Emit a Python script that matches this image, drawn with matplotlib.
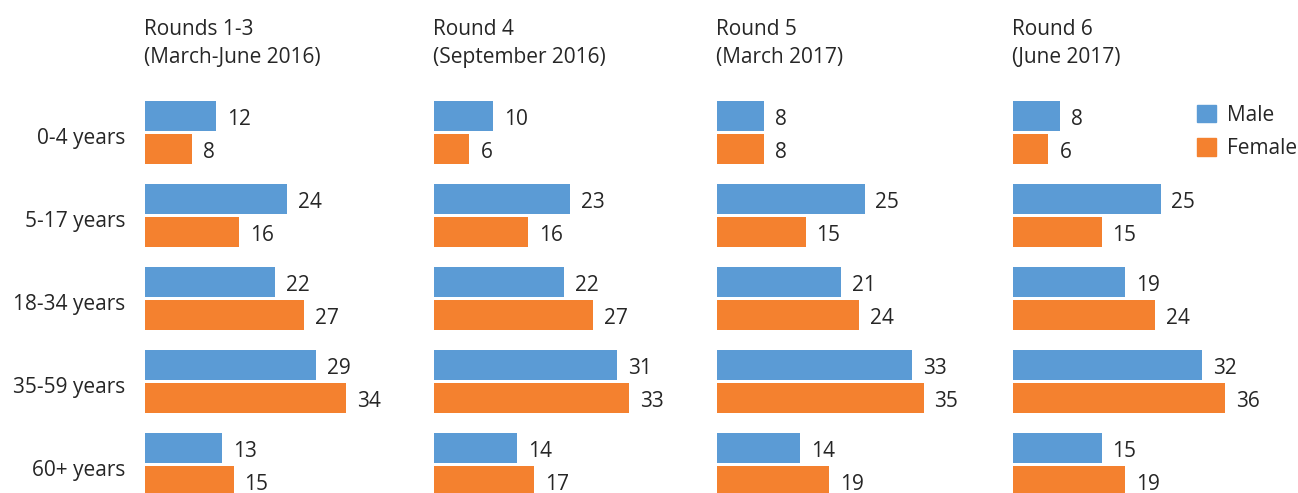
import numpy as np
import matplotlib.pyplot as plt
from matplotlib.patches import Patch

plt.rcParams['font.family'] = ['Open Sans', 'DejaVu Sans']

# data
age_groups = ['0-4 years', '5-17 years', '18-34 years', '35-59 years', '60+ years']
rounds = ['Rounds 1-3\n(March-June 2016)', 'Round 4\n(September 2016)',
          'Round 5\n(March 2017)', 'Round 6\n(June 2017)']
male = [[12, 24, 22, 29, 13],
        [10, 23, 22, 31, 14],
        [8, 25, 21, 33, 14],
        [8, 25, 19, 32, 15]]
female = [[8, 16, 27, 34, 15],
          [6, 16, 27, 33, 17],
          [8, 15, 24, 35, 19],
          [6, 15, 24, 36, 19]]

blue = '#5B9BD5'
orange = '#F4812F'
txt = '#262626'
fs = 15

W, H = 1298, 493
fig = plt.figure(figsize=(W / 100, H / 100), dpi=100)

def fx(px):
    return px / W

def fy(py):
    return 1 - py / H

px_per_unit = 5.9
row_px = 83.0
lefts = [145, 434, 717, 1013]
ax_w = 260
top_px, bot_px = 90, 493
y0 = 132.5  # centre of first row in px

y = np.arange(len(age_groups))
off = 16.5 / row_px
bh = 30 / row_px
txt_dy = 3.5 / row_px  # text sits a touch lower than centre

for k, left in enumerate(lefts):
    ax = fig.add_axes([fx(left), fy(bot_px), ax_w / W, (bot_px - top_px) / H])
    ax.barh(y - off, male[k], height=bh, color=blue)
    ax.barh(y + off, female[k], height=bh, color=orange)
    for i in range(len(age_groups)):
        ax.text(male[k][i] + 11 / px_per_unit, y[i] - off + txt_dy, str(male[k][i]),
                va='center', ha='left', fontsize=fs, color=txt)
        ax.text(female[k][i] + 11 / px_per_unit, y[i] + off + txt_dy, str(female[k][i]),
                va='center', ha='left', fontsize=fs, color=txt)
    ax.set_xlim(0, ax_w / px_per_unit)
    ax.set_ylim((bot_px - y0) / row_px, (top_px - y0) / row_px)
    for s in ax.spines.values():
        s.set_visible(False)
    ax.set_xticks([])
    if k == 0:
        ax.set_yticks(y + txt_dy)
        ax.set_yticklabels(age_groups, fontsize=fs, color=txt)
        ax.tick_params(axis='y', length=0, pad=14)
    else:
        ax.set_yticks([])
    fig.text(fx(left - 1), fy(19), rounds[k], va='top', ha='left', fontsize=fs,
             color=txt, linespacing=1.45)

handles = [Patch(color=blue), Patch(color=orange)]
fig.legend(handles, ['Male', 'Female'], loc='upper left',
           bbox_to_anchor=(fx(1178), fy(86)), frameon=False, fontsize=fs,
           handlelength=0.9, handleheight=0.9, handletextpad=0.55,
           labelspacing=0.6, labelcolor=txt)

plt.savefig('out.png', dpi=100)
